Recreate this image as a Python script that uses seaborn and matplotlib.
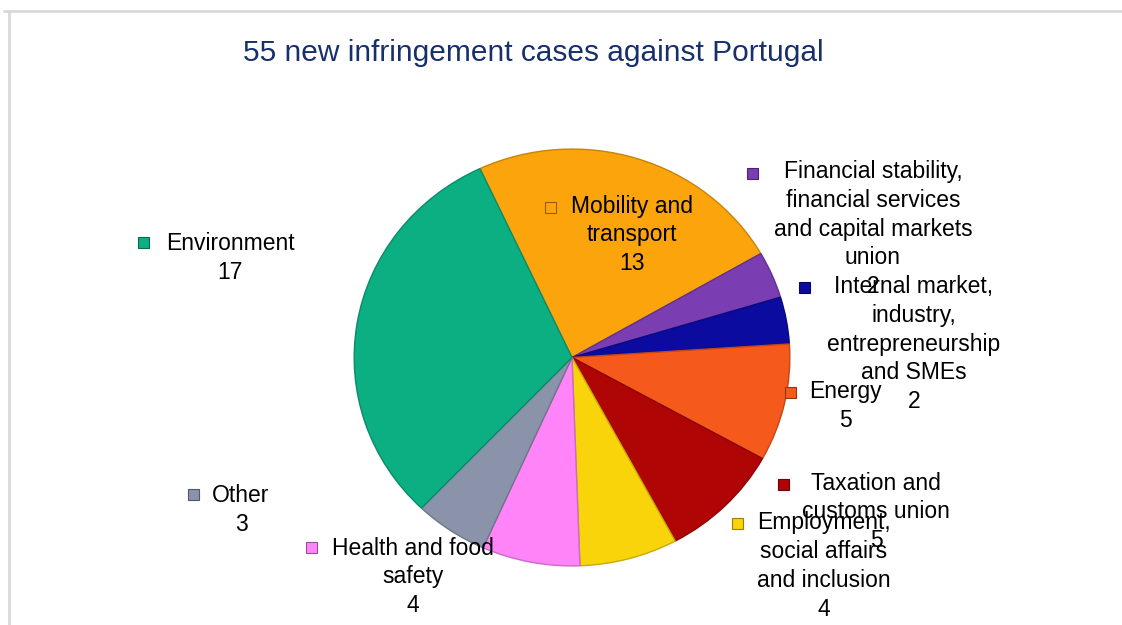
import matplotlib
matplotlib.use("Agg")
import matplotlib.pyplot as plt
from matplotlib.patches import Rectangle
from matplotlib.lines import Line2D
import seaborn as sns

# ---- data ----
categories = [
    "Mobility and\ntransport",
    "Financial stability,\nfinancial services\nand capital markets\nunion",
    "Internal market,\nindustry,\nentrepreneurship\nand SMEs",
    "Energy",
    "Taxation and\ncustoms union",
    "Employment,\nsocial affairs\nand inclusion",
    "Health and food\nsafety",
    "Other",
    "Environment",
]
values = [13, 2, 2, 5, 5, 4, 4, 3, 17]
title = "55 new infringement cases against Portugal"

# ---- styles / positions ----
colors = ["#FBA40C", "#7B3DB2", "#0B0BA0", "#F5591C", "#B00505",
          "#FAD40A", "#FF84F8", "#8A93AA", "#0BAF82"]
# label block centres (pixels, from top-left) and marker positions
label_xy = [(632, 235), (873, 229), (914, 344), (845, 406), (876, 512),
            (824, 566), (413, 577), (241, 510), (230, 258)]
marker_xy = [(550, 207), (752, 173), (804, 287), (790, 392), (783, 484),
             (737, 523), (311, 547), (193, 494), (143, 242)]

W, H = 1122, 625
sns.set_theme(style="white")
plt.rcParams["font.family"] = ["Liberation Sans", "DejaVu Sans"]

fig = plt.figure(figsize=(W / 100, H / 100), dpi=100)
fig.patch.set_facecolor("white")

# frame lines
fig.add_artist(Line2D([4 / W, 1], [1 - 10.5 / H, 1 - 10.5 / H],
                      transform=fig.transFigure, color="#d9d9d9", lw=2))
fig.add_artist(Line2D([8.5 / W, 8.5 / W], [0, 1 - 10.5 / H],
                      transform=fig.transFigure, color="#d9d9d9", lw=2))

# pie axes
left, right, top, bottom = 352, 792, 147, 568
ax = fig.add_axes([left / W, (H - bottom) / H, (right - left) / W, (bottom - top) / H])
palette = sns.color_palette(colors)
wedges, _ = ax.pie(values, colors=palette, startangle=115, counterclock=False,
                   wedgeprops=dict(edgecolor="white", linewidth=0.6))
for w, c in zip(wedges, palette):
    w.set_edgecolor(tuple(v * 0.8 for v in c))
    w.set_linewidth(1.0)
ax.set_aspect("auto")
ax.set_xlim(-1.01, 1.01)
ax.set_ylim(-1.01, 1.01)
ax.axis("off")

# title
fig.text(533 / W, 1 - 53 / H, title, ha="center", va="center",
         fontsize=21.5, color="#17306B")

# labels
for cat, val, (lx, ly), (mx, my), c in zip(categories, values, label_xy, marker_xy, palette):
    fig.text(lx / W, 1 - ly / H, f"{cat}\n{val}", ha="center", va="center",
             multialignment="center", fontsize=16.5, color="black", linespacing=1.33)
    s = 11
    fig.add_artist(Rectangle(((mx - s / 2) / W, 1 - (my + s / 2) / H), s / W, s / H,
                             transform=fig.transFigure, facecolor=c,
                             edgecolor=tuple(v * 0.6 for v in c), lw=0.8))

fig.savefig("out.png", dpi=100, facecolor="white")
